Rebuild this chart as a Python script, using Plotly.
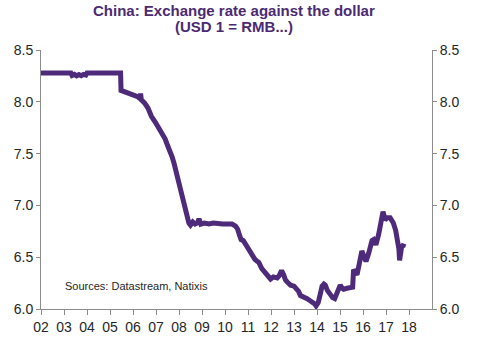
import plotly.graph_objects as go

years = [2002.00, 2002.50, 2003.00, 2003.30, 2003.35, 2003.45, 2003.55, 2003.65, 2003.75, 2003.85,
         2003.95, 2004.00, 2004.50, 2005.00, 2005.46, 2005.48, 2005.60, 2005.75, 2005.90, 2006.05,
         2006.20, 2006.30, 2006.33, 2006.36, 2006.50, 2006.65, 2006.80, 2006.98, 2007.10, 2007.28,
         2007.40, 2007.50, 2007.57, 2007.70, 2007.78, 2007.90, 2008.00, 2008.10, 2008.22, 2008.30,
         2008.43, 2008.50, 2008.60, 2008.70, 2008.80, 2008.87, 2008.95, 2009.10, 2009.30, 2009.50,
         2009.70, 2009.90, 2010.10, 2010.30, 2010.46, 2010.55, 2010.62, 2010.70, 2010.80, 2010.90,
         2011.00, 2011.18, 2011.30, 2011.40, 2011.47, 2011.60, 2011.76, 2011.85, 2011.98, 2012.10,
         2012.27, 2012.35, 2012.46, 2012.55, 2012.63, 2012.75, 2012.85, 2013.00, 2013.10, 2013.20,
         2013.28, 2013.40, 2013.57, 2013.70, 2013.78, 2013.90, 2013.96, 2014.05, 2014.15, 2014.22,
         2014.30, 2014.36, 2014.45, 2014.58, 2014.68, 2014.77, 2014.90, 2015.01, 2015.10, 2015.16,
         2015.30, 2015.45, 2015.55, 2015.59, 2015.66, 2015.74, 2015.85, 2015.95, 2016.05, 2016.13,
         2016.25, 2016.39, 2016.46, 2016.56, 2016.68, 2016.78, 2016.87, 2016.96, 2017.05, 2017.18,
         2017.25, 2017.32, 2017.42, 2017.51, 2017.56, 2017.59, 2017.63, 2017.69, 2017.73, 2017.78]

rmb_per_usd = [8.277, 8.277, 8.277, 8.277, 8.255, 8.265, 8.250, 8.262, 8.252, 8.265,
               8.258, 8.277, 8.277, 8.277, 8.277, 8.110, 8.100, 8.090, 8.070, 8.060,
               8.050, 8.030, 8.080, 8.020, 7.990, 7.940, 7.860, 7.800, 7.760, 7.680,
               7.640, 7.580, 7.550, 7.470, 7.410, 7.300, 7.200, 7.120, 7.000, 6.930,
               6.830, 6.810, 6.840, 6.820, 6.830, 6.870, 6.820, 6.830, 6.820, 6.830,
               6.820, 6.820, 6.820, 6.820, 6.800, 6.770, 6.720, 6.670, 6.660, 6.620,
               6.580, 6.520, 6.480, 6.460, 6.450, 6.390, 6.350, 6.330, 6.290, 6.310,
               6.300, 6.320, 6.370, 6.330, 6.280, 6.250, 6.230, 6.220, 6.200, 6.170,
               6.130, 6.120, 6.100, 6.080, 6.070, 6.050, 6.030, 6.060, 6.150, 6.220,
               6.240, 6.230, 6.180, 6.130, 6.110, 6.100, 6.170, 6.230, 6.200, 6.190,
               6.200, 6.200, 6.210, 6.380, 6.360, 6.330, 6.450, 6.560, 6.500, 6.460,
               6.540, 6.660, 6.670, 6.620, 6.720, 6.820, 6.940, 6.860, 6.880, 6.880,
               6.860, 6.830, 6.760, 6.660, 6.580, 6.470, 6.550, 6.620, 6.600, 6.630]

tick_years = list(range(2002, 2019))
tick_labels = ["02", "03", "04", "05", "06", "07", "08", "09", "10",
               "11", "12", "13", "14", "15", "16", "17", "18"]
y_ticks = [6.0, 6.5, 7.0, 7.5, 8.0, 8.5]
y_labels = ["6.0", "6.5", "7.0", "7.5", "8.0", "8.5"]

title_line1 = "<b>China: Exchange rate against the dollar</b>"
title_line2 = "<b>(USD 1 = RMB...)</b>"
source_text = "Sources: Datastream, Natixis"

line_color = "#4E2A7A"
axis_color = "#8C8C8C"
text_color = "#262626"
title_color = "#4B2A73"
font_family = "Liberation Sans, Arial, sans-serif"

fig = go.Figure()
fig.add_trace(go.Scatter(x=years, y=rmb_per_usd, mode="lines",
                         line=dict(color=line_color, width=5), hoverinfo="skip",
                         showlegend=False))
fig.add_trace(go.Scatter(x=years, y=rmb_per_usd, mode="lines", yaxis="y2",
                         line=dict(color=line_color, width=0), opacity=0,
                         hoverinfo="skip", showlegend=False))

common_y = dict(range=[6.0, 8.5], tickvals=y_ticks, ticktext=y_labels,
                showgrid=False, zeroline=False, showline=True, linecolor=axis_color,
                linewidth=1, ticks="outside", ticklen=4, tickcolor=axis_color,
                automargin=False,
                tickfont=dict(size=14, color=text_color, family=font_family))

fig.update_layout(
    width=480, height=340,
    margin=dict(l=41, r=48, t=50, b=31, autoexpand=False),
    paper_bgcolor="white", plot_bgcolor="white",
    font=dict(family=font_family, color=text_color),
    xaxis=dict(range=[2002, 2019], tickvals=tick_years, ticktext=tick_labels,
               showgrid=False, zeroline=False, showline=True, linecolor=axis_color,
               linewidth=1, ticks="outside", ticklen=5, tickcolor=axis_color,
               automargin=False,
               tickfont=dict(size=14, color=text_color, family=font_family)),
    yaxis=dict(side="left", **common_y),
    yaxis2=dict(side="right", overlaying="y", **common_y),
    annotations=[
        dict(text=title_line1, xref="paper", yref="paper", x=0.494, y=1.0,
             yshift=40, xanchor="center", yanchor="middle", showarrow=False,
             font=dict(size=15, color=title_color, family=font_family)),
        dict(text=title_line2, xref="paper", yref="paper", x=0.494, y=1.0,
             yshift=24, xanchor="center", yanchor="middle", showarrow=False,
             font=dict(size=15, color=title_color, family=font_family)),
        dict(text=source_text, xref="paper", yref="paper", x=0.056, y=0.087,
             xanchor="left", yanchor="middle", showarrow=False,
             font=dict(size=11, color=text_color, family=font_family)),
    ],
)

fig.write_html("out.html")
